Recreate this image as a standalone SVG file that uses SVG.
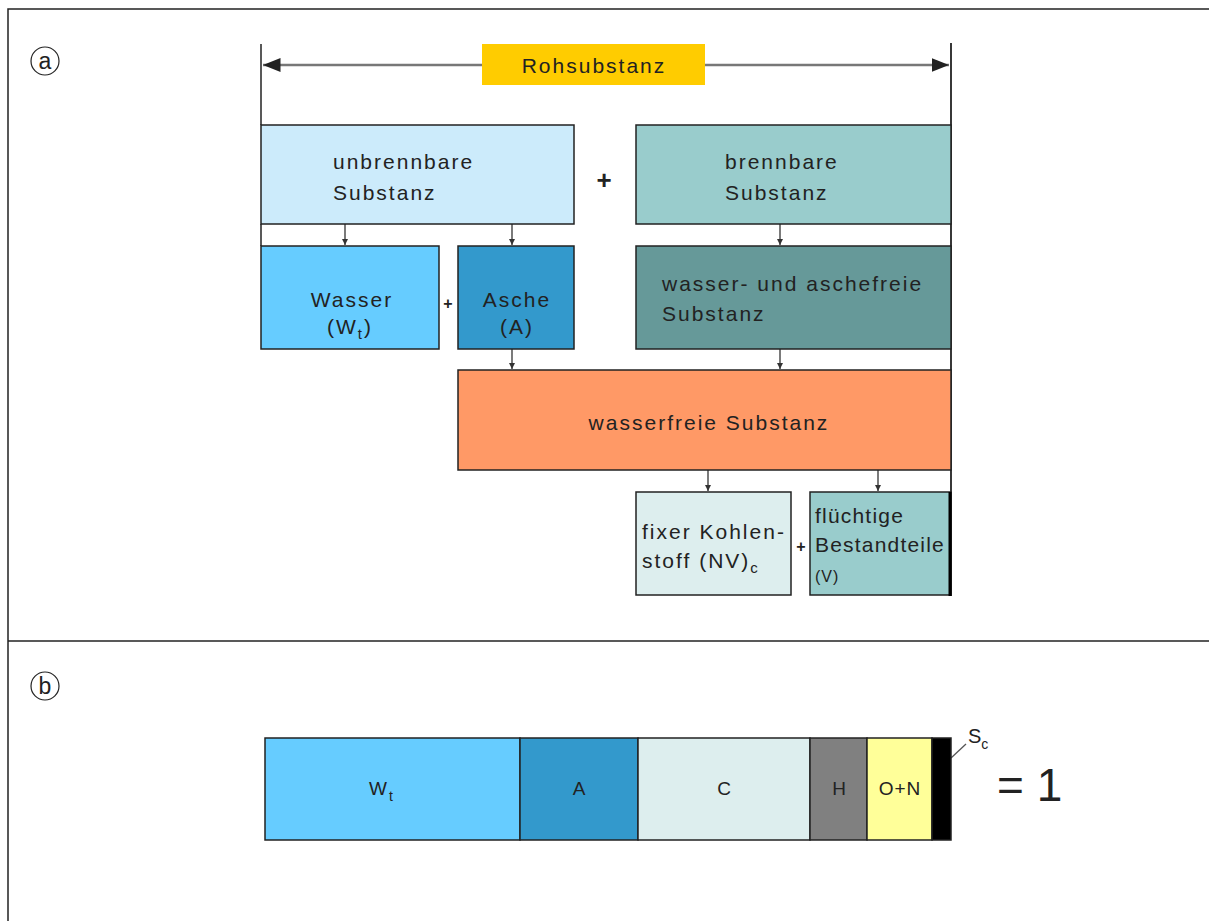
<svg xmlns="http://www.w3.org/2000/svg" width="1209" height="921" viewBox="0 0 1209 921">
<defs>
<marker id="ah" viewBox="0 0 10 10" refX="10" refY="5" markerWidth="5" markerHeight="5" orient="auto"><path d="M0,0 L10,5 L0,10 z" fill="#333"/></marker>
<marker id="big" viewBox="0 0 10 10" refX="10" refY="5" markerWidth="7" markerHeight="7" orient="auto-start-reverse"><path d="M0,1 L10,5 L0,9 z" fill="#222"/></marker>
<style>
.t{font-family:"Liberation Sans",Arial,sans-serif;font-size:21px;letter-spacing:2px;fill:#222}
.s{font-family:"Liberation Sans",Arial,sans-serif;font-size:19px;letter-spacing:2px;fill:#222}
.box{stroke:#222;stroke-width:1.5}
.conn{stroke:#333;stroke-width:1.3;fill:none}
</style>
</defs>
<rect width="1209" height="921" fill="#fff"/>
<g id="frame" fill="none" stroke="#222" stroke-width="1.5">
<path d="M8,930 V9 H1215"/>
<line x1="8" y1="641" x2="1215" y2="641"/>
</g>
<g id="label-a"><circle cx="45" cy="61" r="14" fill="none" stroke="#222" stroke-width="1.2"/><text class="t" x="45" y="69" text-anchor="middle" style="font-size:23px;letter-spacing:0">a</text></g>
<g id="label-b"><circle cx="45" cy="686" r="14" fill="none" stroke="#222" stroke-width="1.2"/><text class="t" x="45" y="694" text-anchor="middle" style="font-size:23px;letter-spacing:0">b</text></g>

<g id="connectors">
<line x1="261" y1="44" x2="261" y2="125" stroke="#222" stroke-width="1.5"/>
<line x1="261" y1="224" x2="261" y2="246" stroke="#222" stroke-width="1.5"/>
<line x1="951" y1="43" x2="951" y2="596" stroke="#222" stroke-width="1.8"/>
<line x1="263" y1="65" x2="482" y2="65" stroke="#777" stroke-width="2.5" marker-start="url(#big)"/>
<line x1="705" y1="65" x2="949" y2="65" stroke="#777" stroke-width="2.5" marker-end="url(#big)"/>
<line class="conn" x1="345" y1="224" x2="345" y2="245" marker-end="url(#ah)"/>
<line class="conn" x1="512" y1="224" x2="512" y2="245" marker-end="url(#ah)"/>
<line class="conn" x1="780" y1="224" x2="780" y2="245" marker-end="url(#ah)"/>
<line class="conn" x1="512" y1="349" x2="512" y2="369" marker-end="url(#ah)"/>
<line class="conn" x1="780" y1="349" x2="780" y2="369" marker-end="url(#ah)"/>
<line class="conn" x1="708" y1="470" x2="708" y2="491" marker-end="url(#ah)"/>
<line class="conn" x1="878" y1="470" x2="878" y2="491" marker-end="url(#ah)"/>
<line x1="951" y1="758" x2="966" y2="744" stroke="#555" stroke-width="1.3"/>
</g>

<g id="rohsubstanz"><rect x="482" y="44" width="223" height="41" fill="#FFCC00"/><text class="t" x="594" y="73" text-anchor="middle">Rohsubstanz</text></g>
<g id="unbrennbare"><rect class="box" x="261" y="125" width="313" height="99" fill="#CCEBFB"/><text class="t" x="333" y="169">unbrennbare</text><text class="t" x="333" y="200">Substanz</text></g>
<g id="plus1"><text class="t" x="604" y="189" text-anchor="middle" style="font-size:26px;font-weight:bold;letter-spacing:0">+</text></g>
<g id="brennbare"><rect class="box" x="636" y="125" width="315" height="99" fill="#99CCCC"/><text class="t" x="725" y="169">brennbare</text><text class="t" x="725" y="200">Substanz</text></g>
<g id="wasser"><rect class="box" x="261" y="246" width="178" height="103" fill="#66CCFF"/><text class="t" x="352" y="307" text-anchor="middle">Wasser</text><text class="t" x="350" y="334" text-anchor="middle">(W<tspan font-size="15" dy="5">t</tspan><tspan dy="-5">)</tspan></text></g>
<g id="plus2"><text class="t" x="448" y="309" text-anchor="middle" style="font-size:16px;font-weight:bold;letter-spacing:0">+</text></g>
<g id="asche"><rect class="box" x="458" y="246" width="116" height="103" fill="#3399CC"/><text class="t" x="517" y="307" text-anchor="middle">Asche</text><text class="t" x="517" y="334" text-anchor="middle">(A)</text></g>
<g id="waf"><rect class="box" x="636" y="246" width="315" height="103" fill="#669999"/><text class="t" x="662" y="291">wasser- und aschefreie</text><text class="t" x="662" y="321">Substanz</text></g>
<g id="wasserfreie"><rect class="box" x="458" y="370" width="493" height="100" fill="#FF9966"/><text class="t" x="709" y="430" text-anchor="middle">wasserfreie Substanz</text></g>
<g id="fixer"><rect class="box" x="636" y="492" width="155" height="103" fill="#DDEEEE"/><text class="t" x="642" y="539">fixer Kohlen-</text><text class="t" x="642" y="568">stoff (NV)<tspan font-size="15" dy="5">c</tspan></text></g>
<g id="plus3"><text class="t" x="801" y="552" text-anchor="middle" style="font-size:16px;font-weight:bold;letter-spacing:0">+</text></g>
<g id="fluechtige"><rect class="box" x="810" y="492" width="141" height="103" fill="#99CCCC"/><line x1="950" y1="492" x2="950" y2="596" stroke="#000" stroke-width="3"/><text class="t" x="815" y="523" style="letter-spacing:1.2px">flüchtige</text><text class="t" x="815" y="552" style="letter-spacing:1.2px">Bestandteile</text><text class="t" x="815" y="582" style="font-size:16px;letter-spacing:1px">(V)</text></g>

<g id="bar">
<rect class="box" x="265" y="738" width="255" height="102" fill="#66CCFF"/>
<rect class="box" x="520" y="738" width="118" height="102" fill="#3399CC"/>
<rect class="box" x="638" y="738" width="172" height="102" fill="#DDEEEE"/>
<rect class="box" x="810" y="738" width="57" height="102" fill="#808080"/>
<rect class="box" x="867" y="738" width="65" height="102" fill="#FFFF99"/>
<rect class="box" x="932" y="738" width="19" height="102" fill="#000"/>
<text class="s" x="382" y="795" text-anchor="middle">W<tspan font-size="14" dy="6">t</tspan></text>
<text class="s" x="580" y="795" text-anchor="middle">A</text>
<text class="s" x="725" y="795" text-anchor="middle">C</text>
<text class="s" x="840" y="795" text-anchor="middle">H</text>
<text class="s" x="900" y="795" text-anchor="middle" style="letter-spacing:1px">O+N</text>
<text class="s" x="968" y="743" style="font-size:20px;letter-spacing:0">S<tspan font-size="14" dy="6">c</tspan></text>
<text class="t" x="997" y="801" style="font-size:46px;letter-spacing:0">= 1</text>
</g>
</svg>
